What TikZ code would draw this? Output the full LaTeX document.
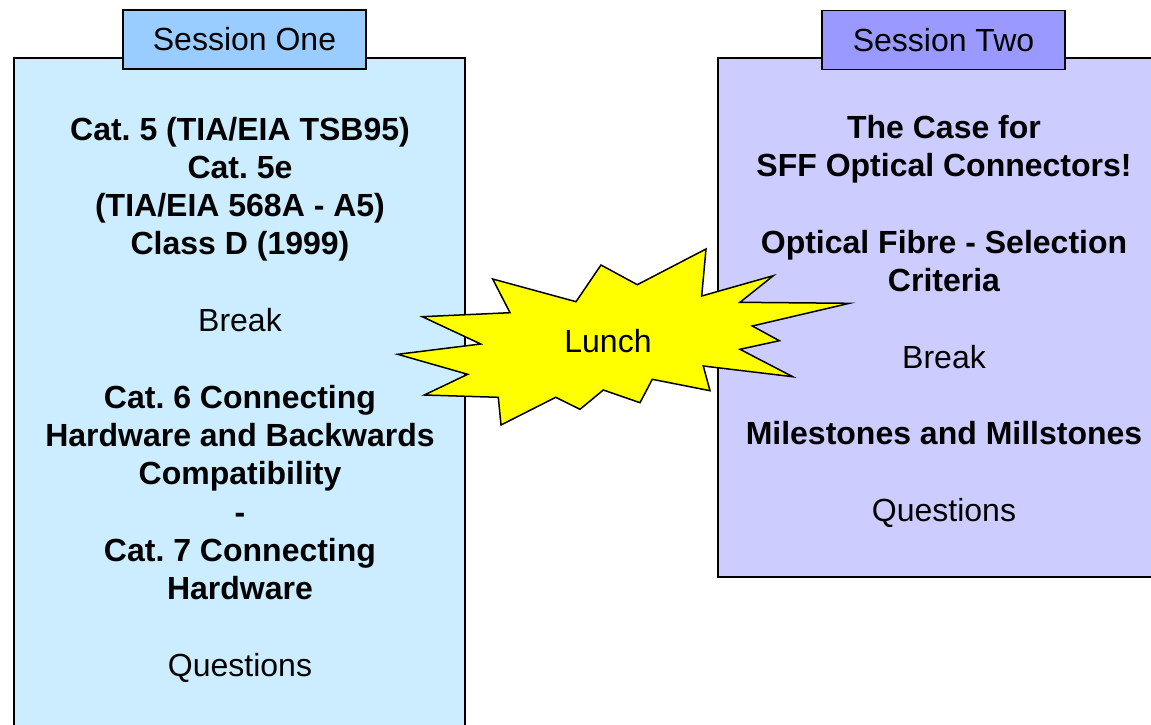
\documentclass[tikz,border=0pt]{standalone}
\usepackage{fontspec}
\setmainfont{Liberation Sans}
\frenchspacing
\definecolor{boxone}{HTML}{CCECFF}
\definecolor{tabone}{HTML}{99CCFF}
\definecolor{boxtwo}{HTML}{CCCCFF}
\definecolor{tabtwo}{HTML}{9999FF}
\definecolor{burst}{HTML}{FFFF00}
\begin{document}
\begin{tikzpicture}[x=1pt,y=-1pt,
  frame/.style={draw=black,line width=1.5pt},
  tab/.style={frame,rectangle,inner sep=0pt,minimum width=243pt,minimum height=59pt,font=\fontsize{32}{38}\selectfont\frenchspacing},
  txt/.style={anchor=base,inner sep=0pt,font=\fontsize{32}{38}\selectfont\frenchspacing},
  btxt/.style={txt,font=\fontsize{32}{38}\selectfont\bfseries\frenchspacing}]
\useasboundingbox (0,0) rectangle (1151,725);
\clip (0,0) rectangle (1151,725);
% boxes
\draw[frame,fill=boxone] (14,58) rectangle (465,740);
\draw[frame,fill=boxtwo] (718,58) rectangle (1175,577);
% tabs
\node[tab,fill=tabone] (tabone) at (244.5,39.5) {Session One};
\node[tab,fill=tabtwo] (tabtwo) at (943.5,40) {Session Two};
% left texts
\node[btxt] (a1) at (240,140) {Cat. 5 (TIA/EIA TSB95)};
\node[btxt] (a2) at (240,178.3) {Cat. 5e};
\node[btxt] (a3) at (240,216.6) {(TIA/EIA 568A - A5)};
\node[btxt] (a4) at (240,254.9) {Class D (1999)};
\node[txt]  (a5) at (240,331.5) {Break};
\node[btxt] (a6) at (240,408.1) {Cat. 6 Connecting};
\node[btxt] (a7) at (240,446.4) {Hardware and Backwards};
\node[btxt] (a8) at (240,484.7) {Compatibility};
\node[btxt] (a9) at (240,523) {-};
\node[btxt] (a10) at (240,561.3) {Cat. 7 Connecting};
\node[btxt] (a11) at (240,599.6) {Hardware};
\node[txt]  (a12) at (240,676.2) {Questions};
% right texts
\node[btxt] (b1) at (944,138.5) {The Case for};
\node[btxt] (b2) at (944,176.8) {SFF Optical Connectors!};
\node[btxt] (b3) at (944,253.4) {Optical Fibre - Selection};
\node[btxt] (b4) at (944,291.7) {Criteria};
\node[txt]  (b5) at (944,368.3) {Break};
\node[btxt] (b6) at (944,444.9) {Milestones and Millstones};
\node[txt]  (b7) at (944,521.5) {Questions};
% starburst
\draw[line width=1.5pt,line join=miter,fill=burst]
  (492.7,279) -- (576,301.7) -- (601,265) -- (637.3,284.7) -- (706,249)
  -- (701.7,296) -- (773.3,275.7) -- (740,302.3) -- (849.3,303.3)
  -- (752.3,326) -- (779.3,340.7) -- (740,349.3) -- (792.7,376.7)
  -- (703.3,366) -- (710,390.7) -- (652.3,379.3) -- (640,402.7)
  -- (603.3,390) -- (580,409.3) -- (555.7,397.3) -- (501,425)
  -- (498.3,397.3) -- (424.3,395) -- (467.7,374.3) -- (397.7,354.3)
  -- (480.7,344) -- (422.3,316.7) -- (510,312.7) -- cycle;
\node[txt] (lunch) at (608,352.5) {Lunch};
\end{tikzpicture}
\end{document}
